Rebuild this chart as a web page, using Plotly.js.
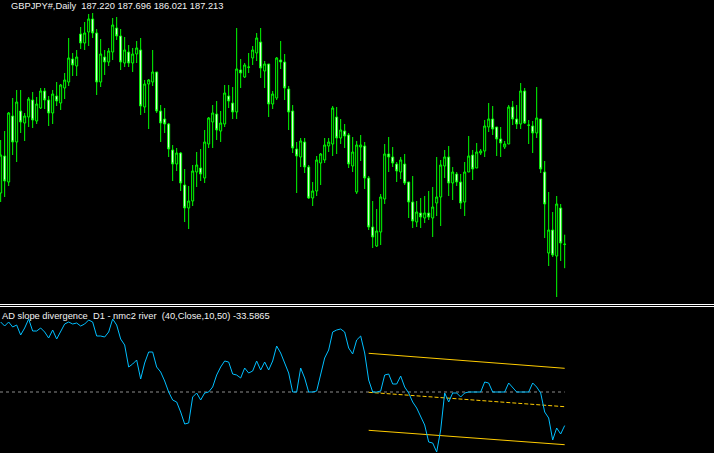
<!DOCTYPE html>
<html>
<head>
<meta charset="utf-8">
<script src="https://cdn.plot.ly/plotly-3.0.1.min.js"></script>
<style>
html,body{margin:0;padding:0;background:#000;}
#chart{width:714px;height:453px;}
</style>
</head>
<body>
<div id="chart"></div>
<script>
// ---- price data (GBPJPY daily) ----
const symbolLabel = "GBPJPY#,Daily";
const open = [189.78,191.63,190.33,193.63,192.33,193.88,193.28,193.58,194.43,193.38,
194.03,194.88,194.43,193.78,194.63,194.28,195.03,195.33,196.48,196.13,
197.73,197.28,197.83,198.48,197.78,195.33,196.58,196.33,196.83,198.03,
197.63,196.28,196.83,196.28,196.73,196.93,194.08,195.23,195.33,195.83,
193.88,193.48,193.23,191.93,191.23,191.78,190.18,189.03,189.38,190.83,
191.03,190.53,192.23,193.33,193.73,192.88,193.23,194.63,194.28,193.83,
195.93,195.58,196.08,196.53,196.78,197.33,195.88,196.23,194.23,194.53,
196.43,196.33,194.98,193.88,191.98,191.58,192.33,191.08,189.53,189.88,
191.28,191.43,192.13,192.23,193.58,192.53,192.88,192.68,191.13,189.83,
192.08,192.13,190.53,188.08,187.13,187.83,189.48,191.73,191.58,191.23,
190.83,191.23,190.33,189.33,188.33,188.78,188.53,188.78,188.53,189.28,
189.58,191.13,191.58,190.28,190.73,190.33,189.33,190.83,191.68,191.03,
191.78,191.88,193.08,193.48,193.08,192.48,192.08,192.23,194.08,193.48,
193.23,194.88,193.18,193.13,192.78,193.48,190.83,186.78,187.93,186.63,
189.03,187.220];
const high = [192.43,192.88,193.83,194.53,194.93,194.93,193.78,194.58,194.83,194.58,
195.03,195.03,194.63,194.93,195.33,195.23,195.78,197.53,196.78,196.93,
198.08,198.33,198.73,198.78,197.98,197.48,196.93,197.03,198.53,198.58,
197.98,197.58,197.18,197.03,197.38,197.53,195.43,195.48,196.93,195.83,
194.18,194.03,193.28,192.18,192.03,191.83,190.98,190.13,191.18,191.83,
191.98,192.93,193.58,194.18,194.38,193.88,195.18,195.18,195.08,198.03,
196.48,196.28,196.78,197.13,197.78,198.03,196.38,196.23,194.88,196.58,
197.38,196.73,195.13,194.18,192.33,192.53,192.53,191.18,190.33,191.63,
191.78,192.53,192.53,194.13,194.08,193.48,193.23,192.78,192.58,192.38,
192.68,192.33,190.63,189.38,188.98,189.73,192.23,192.58,192.08,191.33,
191.58,191.73,190.33,190.63,189.38,189.53,189.63,189.88,190.08,191.58,
191.43,191.93,192.13,191.08,190.83,190.73,191.33,192.63,191.93,192.28,
191.98,193.43,194.28,194.13,193.08,193.08,192.38,194.18,194.38,194.18,
195.28,195.03,193.43,193.38,195.08,193.48,191.38,189.83,188.83,189.63,
189.23,187.696];
const low = [189.33,189.58,190.13,191.68,191.33,192.78,192.38,193.08,193.03,193.23,
193.98,193.98,193.13,193.23,194.13,193.93,194.48,195.13,195.63,195.63,
196.98,196.93,197.13,197.53,194.68,195.08,195.68,196.13,196.43,197.43,
195.93,196.08,196.08,195.83,196.28,193.68,193.78,192.98,195.13,193.78,
192.33,192.78,191.58,190.38,190.88,189.88,188.33,187.98,189.13,190.08,
190.38,190.28,192.03,192.03,192.43,192.33,193.08,194.03,193.48,193.48,
195.03,195.53,195.78,196.18,196.38,195.53,195.03,193.58,193.98,194.43,
195.98,194.43,192.93,191.78,189.78,191.08,190.78,189.48,189.13,189.63,
190.18,191.28,191.83,191.63,191.73,192.23,192.03,191.03,190.83,189.73,
191.38,189.98,187.93,187.03,187.08,187.18,189.23,190.83,191.08,190.33,
190.48,190.18,188.53,188.03,188.08,188.03,188.28,188.43,187.58,188.63,
188.13,190.53,189.63,189.43,190.13,188.98,188.63,190.83,190.43,191.03,
191.68,191.58,192.83,192.68,191.63,191.58,191.98,192.23,193.18,192.98,
192.98,193.23,192.23,191.78,192.53,190.78,187.53,186.13,186.58,184.58,
186.38,186.021];
const close = [191.68,190.38,193.78,192.33,194.33,193.33,193.63,194.48,193.43,194.23,
194.88,194.43,193.78,194.73,194.38,195.18,195.43,196.53,196.18,196.58,
197.28,197.78,198.48,197.78,195.33,196.73,196.33,196.88,198.18,197.63,
196.33,196.93,196.28,196.73,197.03,194.13,195.23,195.43,195.83,193.88,
193.28,193.23,191.98,191.23,191.78,190.28,189.03,189.38,190.88,191.18,
190.73,192.33,193.53,193.78,192.93,193.28,194.78,194.38,193.83,195.98,
195.78,196.18,196.07,196.93,197.53,196.03,196.23,194.23,194.73,196.53,
196.33,195.03,193.83,192.03,191.63,192.38,191.08,189.53,189.88,191.43,
191.73,192.18,192.33,194.03,192.53,192.93,192.63,191.23,191.83,192.18,
192.18,190.53,188.08,187.58,187.88,189.58,191.73,191.58,191.28,190.88,
191.43,190.28,189.33,188.38,188.83,188.58,188.78,188.58,189.08,189.58,
191.18,191.58,190.28,190.83,190.33,189.28,190.83,191.63,190.98,191.83,
191.88,193.13,193.48,192.98,192.48,192.28,192.23,194.08,193.48,193.23,
194.88,193.28,193.17,192.78,193.53,190.98,189.23,187.93,186.68,189.23,
187.28,187.213];

// ---- indicator: AD slope divergence (nmc2 river) ----
const indicatorLabel = "AD slope divergence\u00a0\u00a0D1 - nmc2 river\u00a0\u00a0(40,Close,10,50) -33.5865";
const adSlope = [70,66,70,65,67,57,64,73,61,61,
64,60,54,62,53,60,68,70,68,69,
66,68,72,70,56,56,55,60,73,67,
53,47,25,28,32,13,29,40,40,25,
20,11,0,-8,-10,-20,-32,-31,-5,-1,
-8,-1,0,5,17,25,31,30,18,17,
14,24,19,21,31,22,30,22,31,46,
39,29,19,0,0,24,14,0,0,1,
17,34,42,60,62,63,60,44,38,52,
56,39,12,0,0,1,17,18,8,8,
16,5,-1,-10,-16,-25,-33,-50,-51,-60,
-38,-1,-10,-1,-1,-5,-1,0,0,0,
0,10,9,0,0,0,0,9,5,0,
0,0,0,9,5,-1,-20,-26,-48,-36,
-42,-33.5865];
const levelValue = 0;
const channelX = [92, 141];
const channelUpper = [38.7, 23.7];
const channelMid = [-0.3, -14.7];
const channelLower = [-38.3, -52.7];

const barIndex = open.map((_, i) => i);
const lastBar = barIndex[barIndex.length - 1];

const W = 714, H = 453;
const mainBottomPx = 303, subTopPx = 307;
const green = '#00ff00';

const traces = [
  {
    type: 'candlestick', x: barIndex, open: open, high: high, low: low, close: close,
    xaxis: 'x', yaxis: 'y',
    increasing: {line: {color: green, width: 1}, fillcolor: '#000000'},
    decreasing: {line: {color: green, width: 1}, fillcolor: '#ffffff'},
    whiskerwidth: 0, hoverinfo: 'skip', showlegend: false
  },
  {
    type: 'scatter', mode: 'lines', x: channelX, y: channelUpper, xaxis: 'x', yaxis: 'y2',
    line: {color: '#ffcc00', width: 1}, hoverinfo: 'skip', showlegend: false
  },
  {
    type: 'scatter', mode: 'lines', x: channelX, y: channelMid, xaxis: 'x', yaxis: 'y2',
    line: {color: '#ffcc00', width: 1, dash: '4px,2px'}, hoverinfo: 'skip', showlegend: false
  },
  {
    type: 'scatter', mode: 'lines', x: channelX, y: channelLower, xaxis: 'x', yaxis: 'y2',
    line: {color: '#ffcc00', width: 1}, hoverinfo: 'skip', showlegend: false
  },
  {
    type: 'scatter', mode: 'lines', x: barIndex, y: adSlope, xaxis: 'x', yaxis: 'y2',
    line: {color: '#00bfff', width: 1}, hoverinfo: 'skip', showlegend: false
  }
];

const layout = {
  width: W, height: H,
  margin: {l: 0, r: 0, t: 0, b: 0, pad: 0},
  paper_bgcolor: '#000000', plot_bgcolor: '#000000',
  showlegend: false,
  boxgap: 0.5, boxgroupgap: 0,
  xaxis: {
    range: [-0.1675, 178.33], visible: false, showgrid: false, zeroline: false,
    rangeslider: {visible: false}, fixedrange: true
  },
  yaxis: {
    domain: [(H - mainBottomPx) / H, 1],
    range: [199.43 - mainBottomPx / 20, 199.43],
    visible: false, showgrid: false, zeroline: false, fixedrange: true
  },
  yaxis2: {
    domain: [0, (H - subTopPx) / H],
    range: [-61, 85], anchor: 'x',
    visible: false, showgrid: false, zeroline: false, fixedrange: true
  },
  shapes: [
    {type: 'line', xref: 'x', yref: 'y2', x0: -0.1675, x1: lastBar, y0: levelValue, y1: levelValue,
     line: {color: '#8c8c8c', width: 1, dash: '3px,3px'}, layer: 'below'},
    {type: 'line', xref: 'paper', yref: 'paper', x0: 0, x1: 1, y0: (H - 304.5) / H, y1: (H - 304.5) / H,
     line: {color: '#ffffff', width: 1}},
    {type: 'line', xref: 'paper', yref: 'paper', x0: 0, x1: 1, y0: (H - 306.5) / H, y1: (H - 306.5) / H,
     line: {color: '#ffffff', width: 1}}
  ],
  annotations: [
    {text: symbolLabel + '\u00a0\u00a0' + [open[lastBar], high[lastBar], low[lastBar], close[lastBar]].map(v => v.toFixed(3)).join(' '),
     xref: 'paper', yref: 'paper', x: 9 / W, y: 1 - 6 / H, xanchor: 'left', yanchor: 'middle',
     showarrow: false, font: {family: 'Liberation Sans, Arial, sans-serif', size: 9.3, color: '#f2f2f2'}},
    {text: indicatorLabel,
     xref: 'paper', yref: 'paper', x: 0, y: 1 - 316 / H, xanchor: 'left', yanchor: 'middle',
     showarrow: false, font: {family: 'Liberation Sans, Arial, sans-serif', size: 9.3, color: '#f2f2f2'}}
  ]
};

Plotly.newPlot('chart', traces, layout, {staticPlot: true, displayModeBar: false});
</script>
</body>
</html>
